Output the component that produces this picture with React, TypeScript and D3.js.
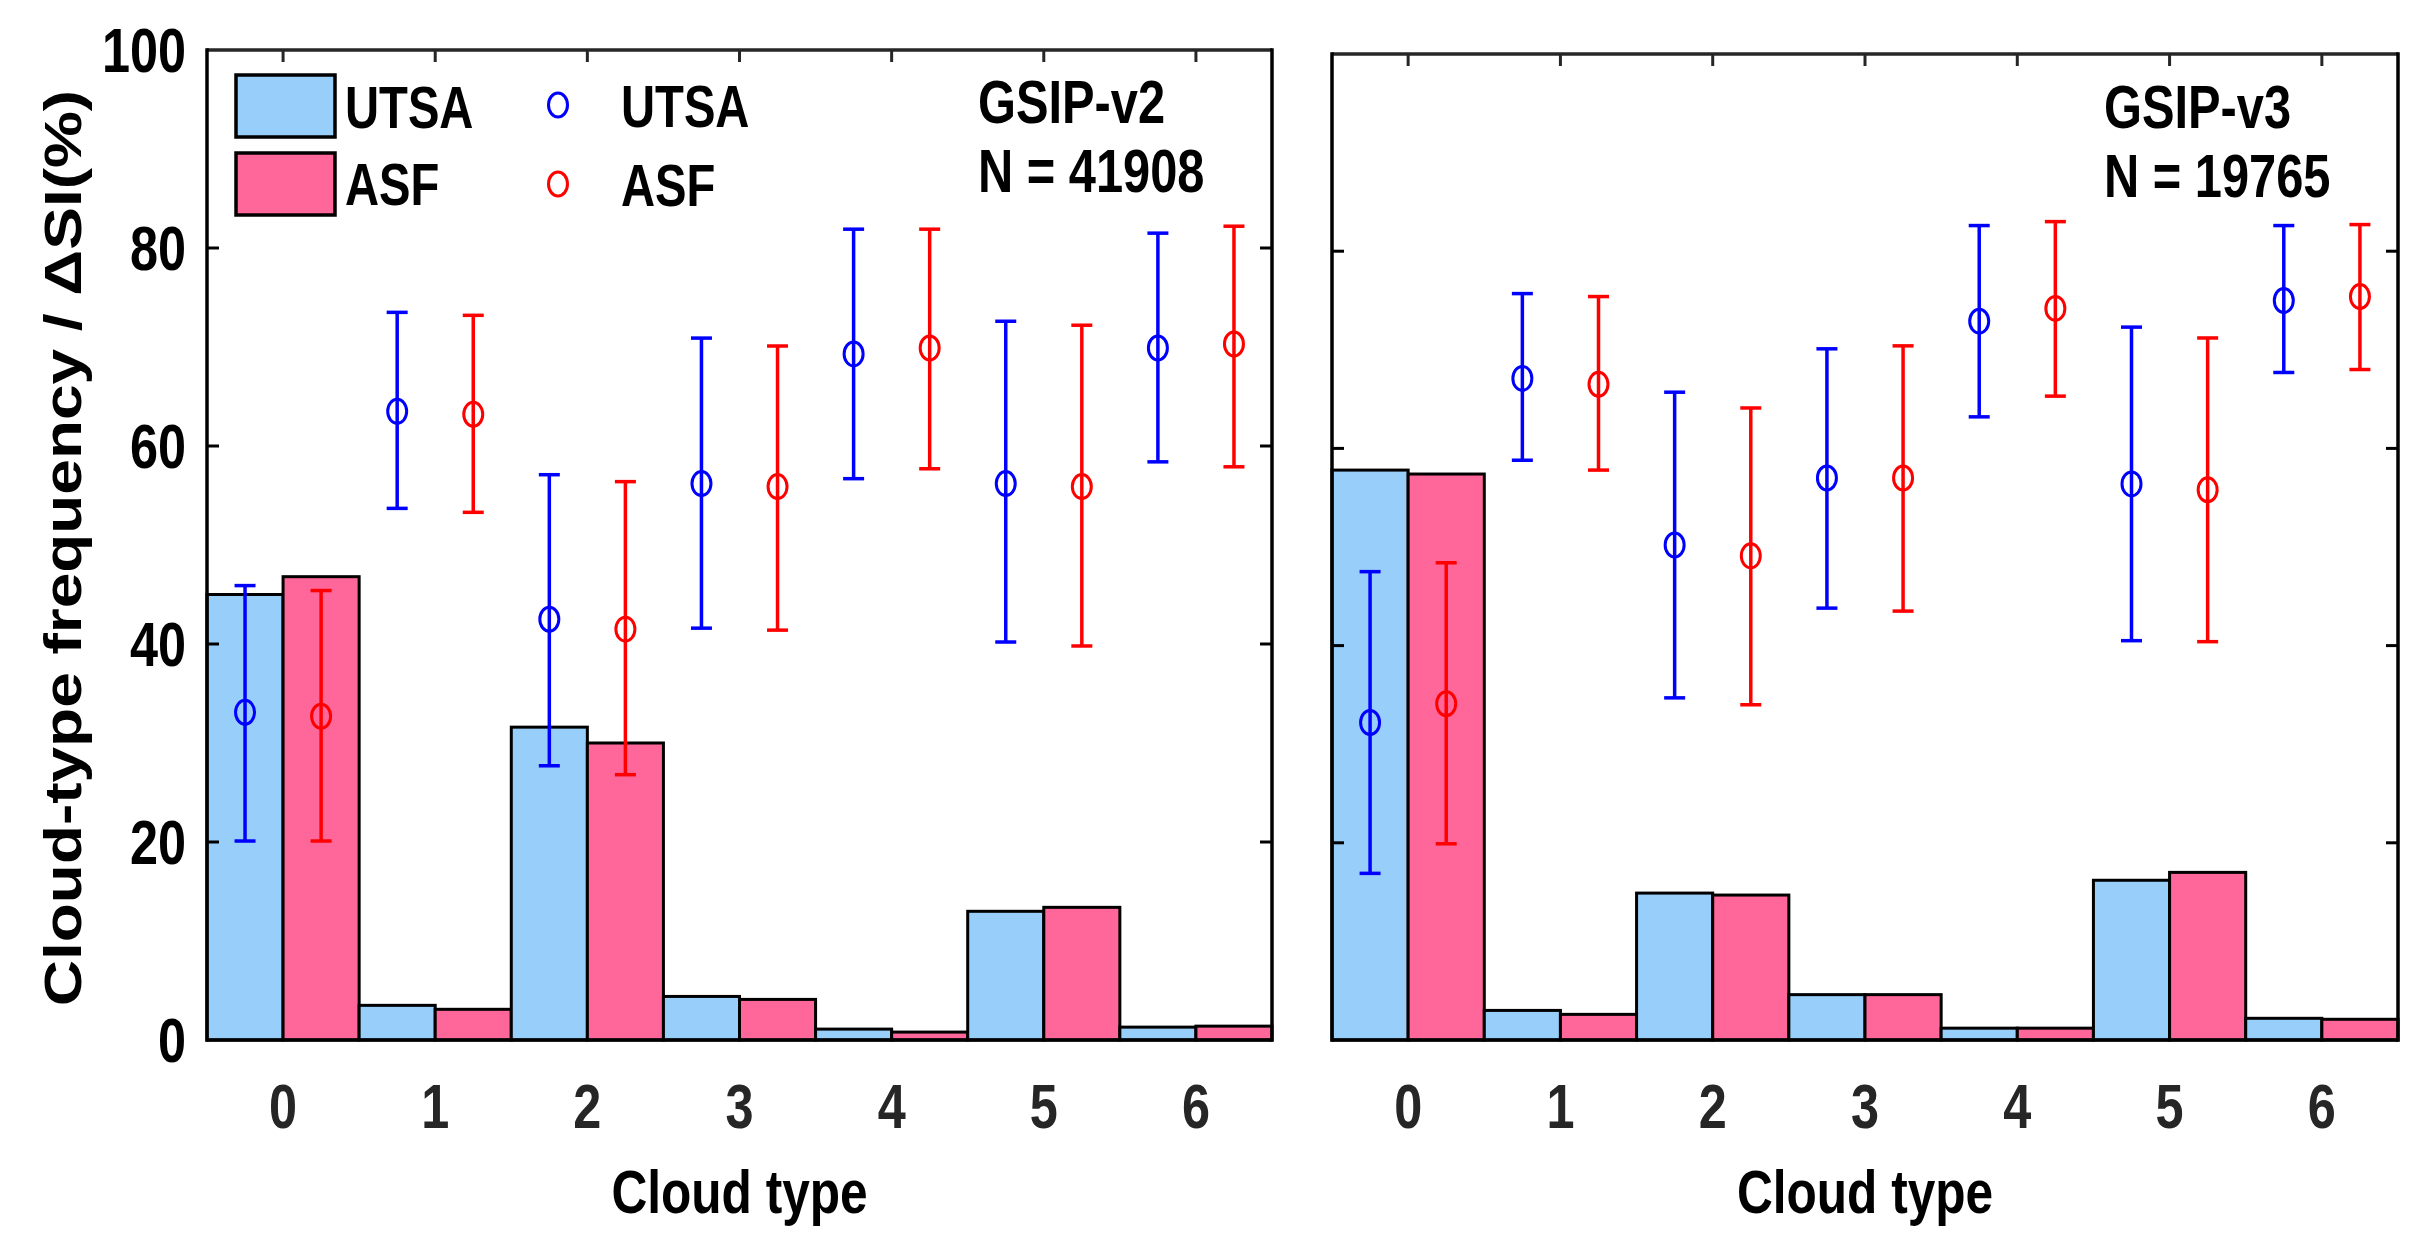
import React, { useEffect } from 'react';
import * as d3 from 'd3';

// cloud type categories
const categories = [0, 1, 2, 3, 4, 5, 6];
const yTicks = [0, 20, 40, 60, 80, 100];

// GSIP-v2 panel: cloud-type frequency (%) bars
const v2UtsaFreq = [45.0, 3.5, 31.6, 4.4, 1.1, 13.0, 1.3];
const v2AsfFreq = [46.8, 3.1, 30.0, 4.1, 0.8, 13.4, 1.4];
// GSIP-v2 panel: ΔSI mean and error bar bounds
const v2UtsaSI = [33.1, 63.5, 42.5, 56.2, 69.3, 56.2, 69.9];
const v2UtsaLo = [20.1, 53.7, 27.7, 41.6, 56.7, 40.2, 58.4];
const v2UtsaHi = [45.9, 73.5, 57.1, 70.9, 81.9, 72.6, 81.5];
const v2AsfSI = [32.7, 63.2, 41.5, 55.9, 69.9, 55.9, 70.3];
const v2AsfLo = [20.1, 53.3, 26.8, 41.4, 57.7, 39.8, 57.9];
const v2AsfHi = [45.4, 73.2, 56.4, 70.1, 81.9, 72.2, 82.2];

// GSIP-v3 panel
const v3UtsaFreq = [57.8, 3.0, 14.9, 4.6, 1.2, 16.2, 2.2];
const v3AsfFreq = [57.4, 2.6, 14.7, 4.6, 1.2, 17.0, 2.1];
const v3UtsaSI = [32.2, 67.1, 50.2, 57.0, 72.9, 56.4, 75.0];
const v3UtsaLo = [16.9, 58.8, 34.7, 43.8, 63.2, 40.5, 67.7];
const v3UtsaHi = [47.5, 75.7, 65.7, 70.1, 82.6, 72.3, 82.6];
const v3AsfSI = [34.1, 66.5, 49.1, 57.0, 74.2, 55.8, 75.4];
const v3AsfLo = [19.9, 57.8, 34.0, 43.5, 65.3, 40.4, 68.0];
const v3AsfHi = [48.4, 75.4, 64.1, 70.4, 83.0, 71.2, 82.7];

const FONT = "'Liberation Sans', Arial, sans-serif";
const SX = 0.8; // the original figure is squeezed horizontally
const BLUE_BAR = '#97CFFA';
const PINK_BAR = '#FF6699';

interface PanelProps {
  left: number;
  right: number;
  top: number;
  bottom: number;
  utsaFreq: number[];
  asfFreq: number[];
  utsaSI: number[];
  utsaLo: number[];
  utsaHi: number[];
  asfSI: number[];
  asfLo: number[];
  asfHi: number[];
  title: string;
  count: string;
  titleX: number;
  titleY: number;
  showYLabels: boolean;
  showLegend: boolean;
}

const SquishText: React.FC<{ x: number; y: number; size: number; anchor?: string; fill?: string; children: React.ReactNode }> = ({ x, y, size, anchor = 'start', fill = '#000', children }) => (
  <text
    transform={`translate(${x},${y}) scale(${SX},1)`}
    fontFamily={FONT}
    fontWeight="bold"
    fontSize={size}
    textAnchor={anchor}
    fill={fill}
  >
    {children}
  </text>
);

const Panel: React.FC<PanelProps> = (p) => {
  const x = d3.scaleLinear().domain([-0.5, 6.5]).range([p.left, p.right]);
  const y = d3.scaleLinear().domain([0, 100]).range([p.bottom, p.top]);
  const capHalf = 10.5;
  const tickLen = 12;

  const errorSeries = [
    { mean: p.utsaSI, lo: p.utsaLo, hi: p.utsaHi, off: -0.25, color: '#0000FF' },
    { mean: p.asfSI, lo: p.asfLo, hi: p.asfHi, off: 0.25, color: '#FF0000' },
  ];

  return (
    <g>
      {/* bars */}
      {categories.map((c, i) => (
        <g key={`bar${c}`}>
          <rect
            x={x(c - 0.5)}
            y={y(p.utsaFreq[i])}
            width={x(c) - x(c - 0.5)}
            height={y(0) - y(p.utsaFreq[i])}
            fill={BLUE_BAR}
            stroke="#000"
            strokeWidth={3}
          />
          <rect
            x={x(c)}
            y={y(p.asfFreq[i])}
            width={x(c + 0.5) - x(c)}
            height={y(0) - y(p.asfFreq[i])}
            fill={PINK_BAR}
            stroke="#000"
            strokeWidth={3}
          />
        </g>
      ))}

      {/* frame */}
      <line x1={p.left} x2={p.right} y1={p.top} y2={p.top} stroke="#262626" strokeWidth={3.5} />
      <line x1={p.left} x2={p.right} y1={p.bottom} y2={p.bottom} stroke="#000" strokeWidth={3.5} />
      <line x1={p.left} x2={p.left} y1={p.top - 1.75} y2={p.bottom + 1.75} stroke="#000" strokeWidth={3.5} />
      <line x1={p.right} x2={p.right} y1={p.top - 1.75} y2={p.bottom + 1.75} stroke="#000" strokeWidth={3.5} />

      {/* inward ticks */}
      {categories.map((c) => (
        <line key={`tt${c}`} x1={x(c)} x2={x(c)} y1={p.top} y2={p.top + tickLen} stroke="#262626" strokeWidth={3} />
      ))}
      {yTicks.filter((t) => t > 0 && t < 100).map((t) => (
        <g key={`yt${t}`}>
          <line x1={p.left} x2={p.left + tickLen} y1={y(t)} y2={y(t)} stroke="#000" strokeWidth={3} />
          <line x1={p.right} x2={p.right - tickLen} y1={y(t)} y2={y(t)} stroke="#000" strokeWidth={3} />
        </g>
      ))}

      {/* error bars and markers */}
      {errorSeries.map((s) =>
        categories.map((c, i) => {
          const cx = x(c + s.off);
          return (
            <g key={`e${s.off}${c}`} stroke={s.color} strokeWidth={3.5} fill="none">
              <line x1={cx} x2={cx} y1={y(s.lo[i])} y2={y(s.hi[i])} />
              <line x1={cx - capHalf} x2={cx + capHalf} y1={y(s.lo[i])} y2={y(s.lo[i])} />
              <line x1={cx - capHalf} x2={cx + capHalf} y1={y(s.hi[i])} y2={y(s.hi[i])} />
              <ellipse cx={cx} cy={y(s.mean[i])} rx={9.5} ry={12} strokeWidth={3} />
            </g>
          );
        })
      )}

      {/* x tick labels */}
      {categories.map((c) => (
        <SquishText key={`xl${c}`} x={x(c)} y={1128} size={63} anchor="middle" fill="#262626">
          {c}
        </SquishText>
      ))}

      {/* y tick labels */}
      {p.showYLabels &&
        yTicks.map((t) => (
          <SquishText key={`yl${t}`} x={186} y={y(t) + 22} size={63} anchor="end">
            {t}
          </SquishText>
        ))}

      <SquishText x={(p.left + p.right) / 2} y={1213} size={62} anchor="middle">
        Cloud type
      </SquishText>

      {/* panel annotation */}
      <SquishText x={p.titleX} y={p.titleY} size={61}>
        {p.title}
      </SquishText>
      <SquishText x={p.titleX} y={p.titleY + 69} size={61}>
        {p.count}
      </SquishText>

      {p.showLegend && (
        <g>
          <rect x={236} y={75} width={99} height={62} fill={BLUE_BAR} stroke="#000" strokeWidth={3.5} />
          <rect x={236} y={153} width={99} height={62} fill={PINK_BAR} stroke="#000" strokeWidth={3.5} />
          <SquishText x={345} y={128} size={59}>UTSA</SquishText>
          <SquishText x={345} y={205} size={59}>ASF</SquishText>
          <ellipse cx={558} cy={105} rx={9.5} ry={12} fill="none" stroke="#0000FF" strokeWidth={3} />
          <ellipse cx={558} cy={184} rx={9.5} ry={12} fill="none" stroke="#FF0000" strokeWidth={3} />
          <SquishText x={621} y={127} size={59}>UTSA</SquishText>
          <SquishText x={621} y={206} size={59}>ASF</SquishText>
        </g>
      )}
    </g>
  );
};

const App: React.FC = () => {
  useEffect(() => {
    document.body.style.margin = '0';
  }, []);

  return (
    <svg width={2426} height={1248} style={{ position: 'absolute', left: 0, top: 0, background: '#fff' }}>
      <rect width={2426} height={1248} fill="#fff" />
      <Panel
        left={207}
        right={1272}
        top={50}
        bottom={1040}
        utsaFreq={v2UtsaFreq}
        asfFreq={v2AsfFreq}
        utsaSI={v2UtsaSI}
        utsaLo={v2UtsaLo}
        utsaHi={v2UtsaHi}
        asfSI={v2AsfSI}
        asfLo={v2AsfLo}
        asfHi={v2AsfHi}
        title="GSIP-v2"
        count="N = 41908"
        titleX={978}
        titleY={123}
        showYLabels
        showLegend
      />
      <Panel
        left={1332}
        right={2398}
        top={54}
        bottom={1040}
        utsaFreq={v3UtsaFreq}
        asfFreq={v3AsfFreq}
        utsaSI={v3UtsaSI}
        utsaLo={v3UtsaLo}
        utsaHi={v3UtsaHi}
        asfSI={v3AsfSI}
        asfLo={v3AsfLo}
        asfHi={v3AsfHi}
        title="GSIP-v3"
        count="N = 19765"
        titleX={2104}
        titleY={128}
        showYLabels={false}
        showLegend={false}
      />
      {/* y axis title, stretched along its length like the original */}
      <text
        transform="translate(81,548) rotate(-90) scale(1.23,1)"
        fontFamily={FONT}
        fontWeight="bold"
        fontSize={52}
        textAnchor="middle"
        fill="#000"
      >
        Cloud-type frequency / ΔSI(%)
      </text>
    </svg>
  );
};

export default App;
